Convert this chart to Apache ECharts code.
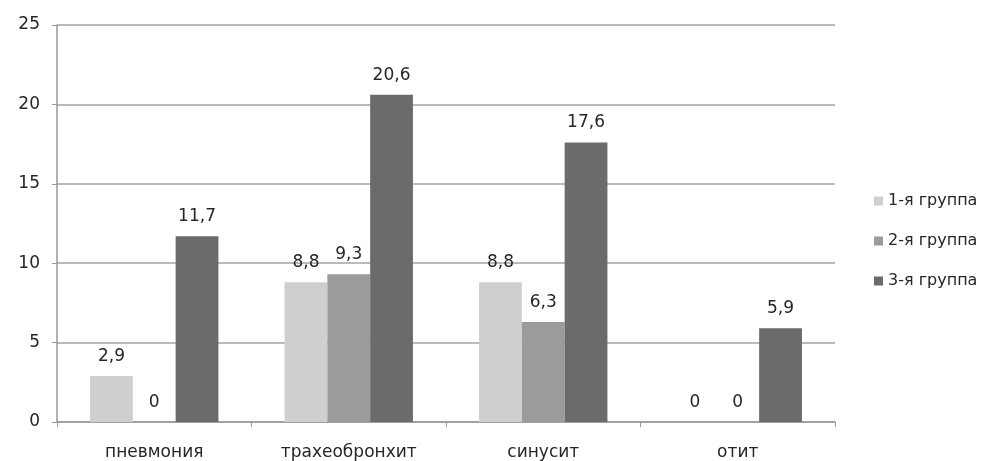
<!DOCTYPE html>
<html>
<head>
<meta charset="utf-8">
<script src="https://cdn.jsdelivr.net/npm/echarts@6/dist/echarts.min.js"></script>
<style>
  html, body { margin: 0; padding: 0; background: #fff; }
</style>
</head>
<body>
<div id="chart" style="width:986px; height:461px;"></div>
<script>
// категории и данные
const categories = ['пневмония', 'трахеобронхит', 'синусит', 'отит'];
const group1 = [2.9, 8.8, 8.8, 0];
const group2 = [0, 9.3, 6.3, 0];
const group3 = [11.7, 20.6, 17.6, 5.9];
const seriesNames = ['1-я группа', '2-я группа', '3-я группа'];
const yTicks = [0, 5, 10, 15, 20, 25];

const colors = ['#cfcfcf', '#9b9b9b', '#6b6b6b'];
const font = '"DejaVu Sans", sans-serif';

const chart = echarts.init(document.getElementById('chart'));

function makeSeries(name, data, color) {
  return {
    name: name,
    type: 'bar',
    data: data,
    barGap: '0%',
    barCategoryGap: '34%',
    itemStyle: { color: color },
    label: {
      show: true,
      position: 'top',
      distance: 11,
      color: '#262626',
      fontSize: 17,
      fontFamily: font,
      formatter: p => String(p.value).replace('.', ',')
    }
  };
}

const option = {
  animation: false,
  color: colors,
  grid: { left: 57, right: 151, top: 25, bottom: 39 },
  legend: {
    orient: 'vertical',
    left: 869,
    top: 188,
    icon: 'rect',
    itemWidth: 9,
    itemHeight: 9,
    itemGap: 24,
    textStyle: { color: '#262626', fontSize: 16, fontFamily: font },
    data: seriesNames
  },
  xAxis: {
    type: 'category',
    data: categories,
    axisLine: { lineStyle: { color: '#999', width: 1.5 } },
    axisTick: { show: true, length: 5, lineStyle: { color: '#999' } },
    axisLabel: { color: '#262626', fontSize: 17, fontFamily: font, margin: 22 }
  },
  yAxis: {
    type: 'value',
    min: yTicks[0],
    max: yTicks[yTicks.length - 1],
    interval: 5,
    axisLine: { show: true, lineStyle: { color: '#999', width: 1.5 } },
    axisTick: { show: true, length: 5, lineStyle: { color: '#999' } },
    axisLabel: { color: '#262626', fontSize: 17, fontFamily: font, margin: 17 },
    splitLine: { lineStyle: { color: '#a3a3a3', width: 1.5 } }
  },
  series: [
    makeSeries(seriesNames[0], group1, colors[0]),
    makeSeries(seriesNames[1], group2, colors[1]),
    makeSeries(seriesNames[2], group3, colors[2])
  ]
};

chart.setOption(option);
</script>
</body>
</html>
